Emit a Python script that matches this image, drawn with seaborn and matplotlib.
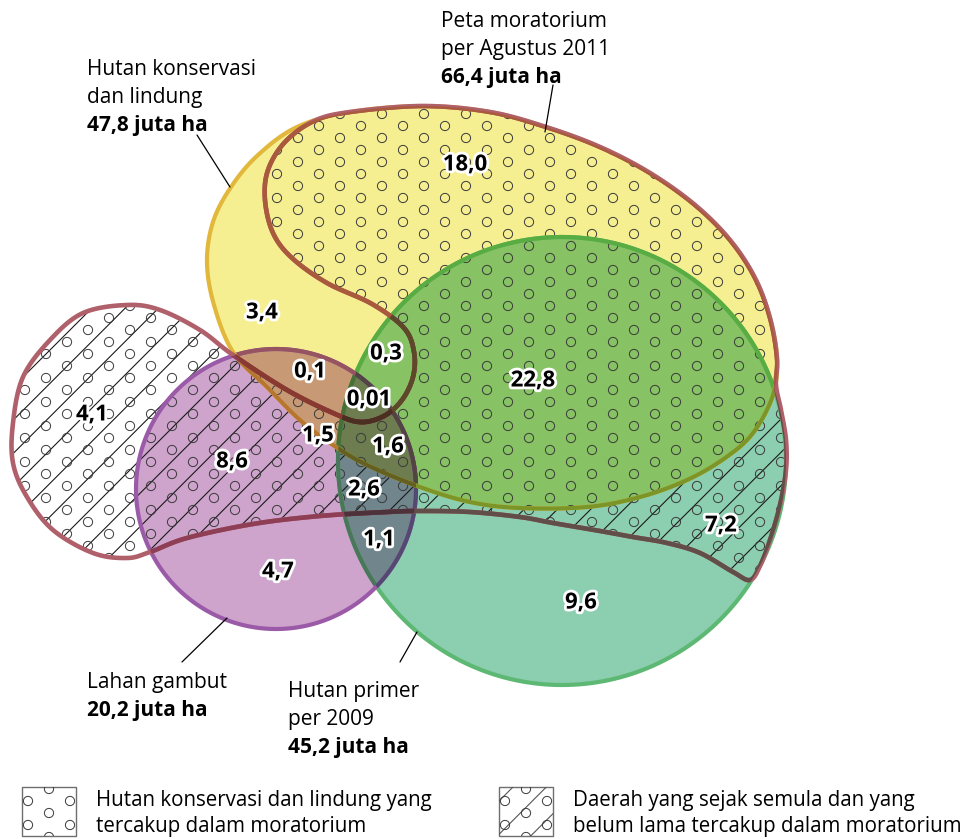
"""Venn-style diagram: moratorium map vs. conservation forest, peatland and primary forest."""
import numpy as np
import matplotlib
matplotlib.use('Agg')
import matplotlib.pyplot as plt
import matplotlib.patheffects as pe
from matplotlib.patches import Polygon, Rectangle
import seaborn as sns

sns.set_style('white')
plt.rcParams['font.family'] = ['Open Sans', 'DejaVu Sans']
plt.rcParams['hatch.linewidth'] = 0.8

# ---- data (million ha) ----
region_values = [18.0, 3.4, 0.3, 0.1, 0.01, 22.8, 4.1, 1.5, 1.6, 8.6, 2.6, 1.1, 7.2, 4.7, 9.6]
set_titles = [['Hutan konservasi', 'dan lindung'],
              ['Peta moratorium', 'per Agustus 2011'],
              ['Lahan gambut'],
              ['Hutan primer', 'per 2009']]
set_totals = [47.8, 66.4, 20.2, 45.2]
legend_texts = [['Hutan konservasi dan lindung yang', 'tercakup dalam moratorium'],
                ['Daerah yang sejak semula dan yang', 'belum lama tercakup dalam moratorium']]

# ---- layout (pixel space) ----
region_xy = [(465, 165), (262, 313), (386, 354), (310, 372), (369, 400), (533, 381),
             (92, 415), (318, 436), (388, 447), (232, 462), (364, 490), (379, 540),
             (721, 526), (278, 572), (581, 603)]
title_xy = [(87, 75), (441, 27), (87, 688), (288, 697)]
leaders = [((197, 135), (230, 187)), ((553, 85), (545, 132)),
           ((182, 662), (227, 618)), ((400, 662), (417, 632))]

top_arc = [(350, 112), (423, 106), (490, 112), (546, 127), (600, 147), (650, 173),
           (695, 205), (730, 240), (755, 278), (770, 318), (777, 358)]
yellow_pts = top_arc + [(773, 395), (753, 433), (725, 458), (687, 480), (640, 497),
                        (587, 507), (520, 508), (470, 502), (420, 487), (367, 465),
                        (333, 445), (300, 420), (267, 387), (233, 352), (214, 305),
                        (207, 262), (213, 222), (231, 187), (258, 155), (297, 127)]
moratorium_pts = top_arc + [(776, 385), (781, 410), (786, 440), (786, 470), (780, 505),
                            (770, 540), (760, 566), (750, 580), (733, 572), (700, 553),
                            (667, 543), (633, 537), (600, 531), (553, 523), (520, 517),
                            (470, 512), (420, 511), (387, 512), (320, 516), (253, 524),
                            (187, 538), (150, 552), (127, 558), (93, 553), (53, 530),
                            (27, 497), (13, 463), (13, 423), (23, 377), (50, 340),
                            (83, 313), (127, 305), (160, 310), (200, 330), (233, 355),
                            (287, 390), (333, 413), (360, 422), (384, 416), (402, 400),
                            (413, 377), (414, 352), (404, 328), (372, 304), (327, 283),
                            (292, 258), (273, 233), (265, 200), (268, 170), (285, 142),
                            (314, 121)]
peat_circle = ((276, 489), 140)
primary_circle = ((562, 461), 224)

colors = {'Y': '#f6ef91', 'P': '#cea4cd', 'G': '#8ccfb0'}
edges = {'Y': '#e2b83c', 'P': '#9b5aa8', 'G': '#5cb873', 'M': '#b0606a'}


def smooth_closed(pts, n=30):
    # closed Catmull-Rom spline through the control points
    p = np.asarray(pts, float)
    m = len(p)
    t = np.linspace(0, 1, n, endpoint=False)[:, None]
    out = []
    for i in range(m):
        p0, p1, p2, p3 = p[i - 1], p[i], p[(i + 1) % m], p[(i + 2) % m]
        out.append(0.5 * (2 * p1 + (-p0 + p2) * t + (2 * p0 - 5 * p1 + 4 * p2 - p3) * t ** 2
                          + (-p0 + 3 * p1 - 3 * p2 + p3) * t ** 3))
    return np.vstack(out)


def circle(center, r, n=240):
    a = np.linspace(0, 2 * np.pi, n, endpoint=False)
    return np.column_stack([center[0] + r * np.cos(a), center[1] + r * np.sin(a)])


def clip_convex(subject, clipper):
    # Sutherland-Hodgman, clipper must be convex
    c = np.asarray(clipper)
    area = np.sum(c[:, 0] * np.roll(c[:, 1], -1) - np.roll(c[:, 0], -1) * c[:, 1])
    sign = np.sign(area)
    out = [np.asarray(q, float) for q in subject]
    for k in range(len(c)):
        a, b = c[k - 1], c[k]
        if not out:
            break
        inp, out = out, []

        def side(q):
            return sign * ((b[0] - a[0]) * (q[1] - a[1]) - (b[1] - a[1]) * (q[0] - a[0]))

        s = inp[-1]
        ss = side(s)
        for e in inp:
            se = side(e)
            if se >= 0:
                if ss < 0:
                    out.append(s + ss / (ss - se) * (e - s))
                out.append(e)
            elif ss >= 0:
                out.append(s + ss / (ss - se) * (e - s))
            s, ss = e, se
    return np.array(out)


def mult(*cols):
    rgb = np.ones(3)
    for c in cols:
        rgb = rgb * np.array(matplotlib.colors.to_rgb(c))
    return rgb


def fmt(v):
    return str(v).replace('.', ',')


shapes = {'Y': smooth_closed(yellow_pts), 'P': circle(*peat_circle), 'G': circle(*primary_circle)}
mor = smooth_closed(moratorium_pts)
polys = {('Y',): shapes['Y'], ('P',): shapes['P'], ('G',): shapes['G']}
polys[('Y', 'G')] = clip_convex(shapes['Y'], shapes['G'])
polys[('Y', 'P')] = clip_convex(shapes['Y'], shapes['P'])
polys[('P', 'G')] = clip_convex(shapes['P'], shapes['G'])
polys[('Y', 'P', 'G')] = clip_convex(polys[('Y', 'G')], shapes['P'])

fig = plt.figure(figsize=(9.79, 8.39), dpi=100)
ax = fig.add_axes([0, 0, 1, 1])
ax.set_xlim(0, 979)
ax.set_ylim(839, 0)
ax.axis('off')


def clipper(key):
    return Polygon(polys[key], closed=True, transform=ax.transData)


def fill(key):
    ax.add_patch(Polygon(polys[key], closed=True, facecolor=mult(*[colors[k] for k in key]),
                         edgecolor='none', lw=0))


def circles_in(clip_patch, x0=4, y0=-6):
    gx, gy = [], []
    for i in range(50):
        for j in range(37):
            gx.append(x0 + 21 * i)
            gy.append(y0 + 24 * j + 12 * (i % 2))
    sc = ax.scatter(gx, gy, s=44, facecolor='none', edgecolor='#3a3a3a', linewidths=0.7)
    sc.set_clip_path(clip_patch)


# fills outside the conservation forest
for key in [('P',), ('G',), ('P', 'G')]:
    fill(key)
# diagonal hatch for moratorium areas outside the conservation forest
ax.add_patch(Polygon(mor, closed=True, fill=False, hatch='/', edgecolor='#1a1a1a', lw=0))
for key in [('Y',), ('Y', 'G'), ('Y', 'P'), ('Y', 'P', 'G')]:
    fill(key)
circles_in(Polygon(mor, closed=True, transform=ax.transData))

# outlines, multiplied with whatever fill lies under them
all_keys = [(), ('Y',), ('P',), ('G',), ('Y', 'G'), ('Y', 'P'), ('P', 'G'), ('Y', 'P', 'G')]
for name, outline, lw in [('G', shapes['G'], 3.0), ('P', shapes['P'], 3.0),
                          ('Y', shapes['Y'], 3.0), ('M', mor, 3.3)]:
    for key in all_keys:
        if name in key:
            continue
        line = Polygon(outline, closed=True, fill=False, lw=lw, joinstyle='round',
                       edgecolor=mult(edges[name], *[colors[k] for k in key]))
        ax.add_patch(line)
        if key:
            line.set_clip_path(clipper(key))

# region values
stroke = [pe.withStroke(linewidth=4, foreground='white')]
for v, (x, y) in zip(region_values, region_xy):
    ax.text(x, y, fmt(v), ha='center', va='center', fontsize=16, fontweight='bold',
            color='black', path_effects=stroke)

# set titles with totals
for lines, total, (x, y), (p0, p1) in zip(set_titles, set_totals, title_xy, leaders):
    for k, s in enumerate(lines):
        ax.text(x, y + 28 * k, s, fontsize=15, va='baseline', ha='left', color='black')
    ax.text(x, y + 28 * len(lines), f'{fmt(total)} juta ha', fontsize=15,
            fontweight='bold', va='baseline', ha='left', color='black')
    ax.plot([p0[0], p1[0]], [p0[1], p1[1]], color='black', lw=0.9)

# legend
for k, (lines, bx) in enumerate(zip(legend_texts, [22, 499])):
    box = Rectangle((bx, 787), 54, 49, facecolor='white', edgecolor='#6e6e6e', lw=1)
    ax.add_patch(box)
    if k == 1:
        ax.add_patch(Rectangle((bx, 787), 54, 49, fill=False, hatch='/',
                               edgecolor='#555555', lw=0))
    circles_in(Rectangle((bx, 787), 54, 49, transform=ax.transData), x0=bx + 6, y0=777)
    for i, s in enumerate(lines):
        ax.text(bx + 74, 806 + 26 * i, s, fontsize=14.8, va='baseline', ha='left',
                color='black')

fig.savefig('out.png', dpi=100)
